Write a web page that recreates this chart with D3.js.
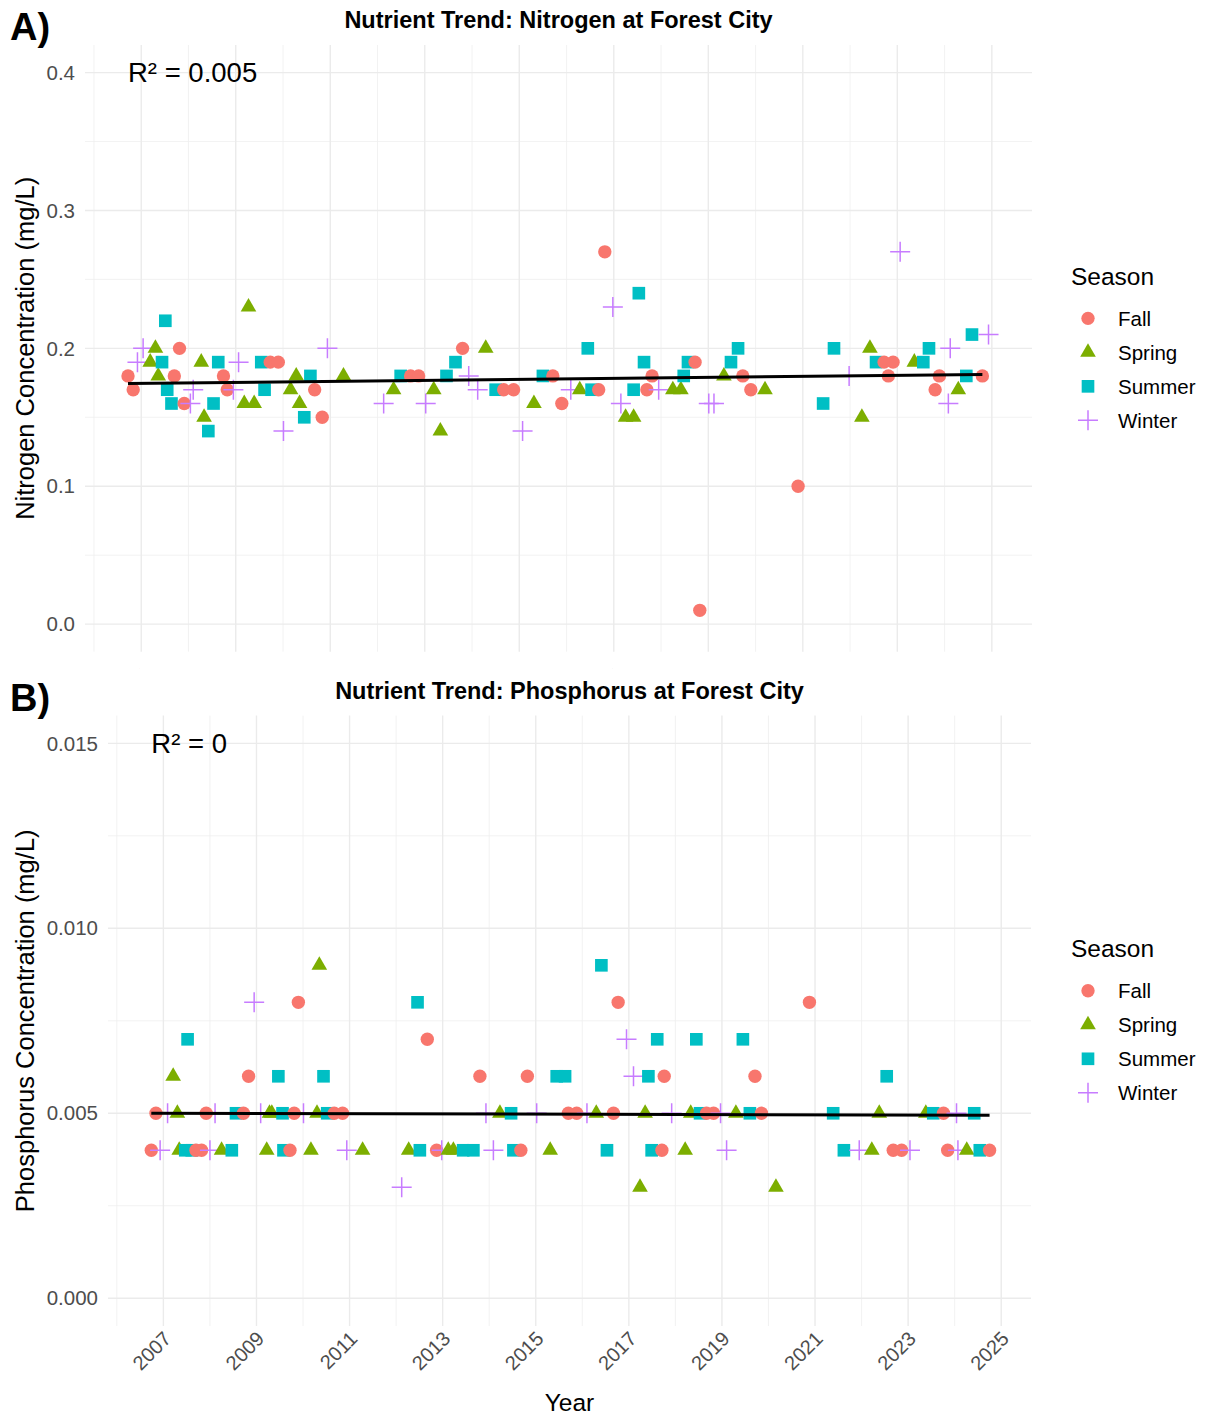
<!DOCTYPE html>
<html>
<head>
<meta charset="utf-8">
<script src="https://cdn.jsdelivr.net/npm/d3@7"></script>
<style>
  body { margin: 0; background: #fff; }
  text { font-family: "Liberation Sans", Arial, sans-serif; }
</style>
</head>
<body>
<svg id="chart"></svg>
<script>
var width = 1214;
var height = 1418;

var seasons = ['Fall', 'Spring', 'Summer', 'Winter'];
var seasonColors = ['#F8766D', '#7CAE00', '#00BFC4', '#C77CFF'];

// Nitrogen (mg/L): [year, value]
var nitrogenFall = [[2006.72, 0.18], [2006.83, 0.17], [2007.70, 0.18], [2007.81, 0.20], [2007.91, 0.16],
  [2008.74, 0.18], [2008.82, 0.17], [2009.73, 0.19], [2009.90, 0.19], [2010.67, 0.17], [2010.83, 0.15],
  [2012.70, 0.18], [2012.87, 0.18], [2013.80, 0.20], [2014.67, 0.17], [2014.88, 0.17], [2015.71, 0.18],
  [2015.90, 0.16], [2016.68, 0.17], [2016.81, 0.27], [2017.70, 0.17], [2017.81, 0.18], [2018.72, 0.19],
  [2018.82, 0.01], [2019.73, 0.18], [2019.90, 0.17], [2020.90, 0.10], [2022.72, 0.19], [2022.81, 0.18],
  [2022.91, 0.19], [2023.80, 0.17], [2023.89, 0.18], [2024.80, 0.18]];
var nitrogenSpring = [[2007.19, 0.19], [2007.30, 0.20], [2007.36, 0.18], [2008.27, 0.19], [2008.33, 0.15],
  [2009.18, 0.16], [2009.27, 0.23], [2009.39, 0.16], [2010.16, 0.17], [2010.28, 0.18], [2010.35, 0.16],
  [2011.28, 0.18], [2012.34, 0.17], [2013.19, 0.17], [2013.33, 0.14], [2014.29, 0.20], [2015.31, 0.16],
  [2016.28, 0.17], [2017.25, 0.15], [2017.42, 0.15], [2018.25, 0.17], [2018.42, 0.17], [2019.33, 0.18],
  [2020.20, 0.17], [2022.25, 0.15], [2022.42, 0.20], [2023.36, 0.19], [2024.29, 0.17]];
var nitrogenSummer = [[2007.44, 0.19], [2007.51, 0.22], [2007.55, 0.17], [2007.64, 0.16], [2008.42, 0.14],
  [2008.53, 0.16], [2008.63, 0.19], [2009.54, 0.19], [2009.61, 0.17], [2010.45, 0.15], [2010.58, 0.18],
  [2012.49, 0.18], [2013.46, 0.18], [2013.65, 0.19], [2014.50, 0.17], [2015.50, 0.18], [2016.45, 0.20],
  [2016.53, 0.17], [2017.42, 0.17], [2017.53, 0.24], [2017.64, 0.19], [2018.48, 0.18], [2018.57, 0.19],
  [2019.48, 0.19], [2019.63, 0.20], [2021.43, 0.16], [2021.66, 0.20], [2022.55, 0.19], [2023.55, 0.19],
  [2023.67, 0.20], [2024.46, 0.18], [2024.58, 0.21]];
var nitrogenWinter = [[2006.92, 0.19], [2007.04, 0.20], [2008.04, 0.16], [2008.10, 0.17], [2008.95, 0.17],
  [2009.06, 0.19], [2010.01, 0.14], [2010.94, 0.20], [2012.13, 0.16], [2013.02, 0.16], [2013.93, 0.18],
  [2014.12, 0.17], [2015.07, 0.14], [2016.09, 0.17], [2016.98, 0.23], [2017.15, 0.16], [2017.95, 0.17],
  [2019.01, 0.16], [2019.12, 0.16], [2021.98, 0.18], [2023.06, 0.27], [2024.08, 0.16], [2024.12, 0.20],
  [2024.93, 0.21]];
var nitrogenTrend = [[2006.72, 0.1745], [2024.80, 0.181]];

// Phosphorus (mg/L): [year, value]
var phosphorusFall = [[2006.74, 0.004], [2006.84, 0.005], [2007.70, 0.004], [2007.82, 0.004], [2007.92, 0.005],
  [2008.72, 0.005], [2008.83, 0.006], [2009.72, 0.004], [2009.81, 0.005], [2009.90, 0.008], [2010.67, 0.005],
  [2010.85, 0.005], [2012.67, 0.007], [2012.87, 0.004], [2013.80, 0.006], [2014.68, 0.004], [2014.82, 0.006],
  [2015.70, 0.005], [2015.88, 0.005], [2016.67, 0.005], [2016.77, 0.008], [2017.71, 0.004], [2017.76, 0.006],
  [2018.67, 0.005], [2018.82, 0.005], [2019.71, 0.006], [2019.85, 0.005], [2020.88, 0.008], [2022.68, 0.004],
  [2022.86, 0.004], [2023.76, 0.005], [2023.85, 0.004], [2024.75, 0.004]];
var phosphorusSpring = [[2007.21, 0.006], [2007.30, 0.005], [2007.34, 0.004], [2008.25, 0.004], [2009.22, 0.004],
  [2009.28, 0.005], [2009.33, 0.005], [2010.17, 0.004], [2010.30, 0.005], [2010.35, 0.009], [2011.28, 0.004],
  [2012.27, 0.004], [2013.12, 0.004], [2013.23, 0.004], [2014.23, 0.005], [2015.31, 0.004], [2016.30, 0.005],
  [2017.24, 0.003], [2017.35, 0.005], [2018.21, 0.004], [2018.33, 0.005], [2019.30, 0.005], [2020.16, 0.003],
  [2022.22, 0.004], [2022.38, 0.005], [2023.38, 0.005], [2024.26, 0.004]];
var phosphorusSummer = [[2007.47, 0.004], [2007.52, 0.007], [2007.61, 0.004], [2008.47, 0.004], [2008.56, 0.005],
  [2009.47, 0.006], [2009.56, 0.005], [2009.58, 0.004], [2010.44, 0.006], [2010.52, 0.005], [2012.46, 0.008],
  [2012.51, 0.004], [2013.44, 0.004], [2013.66, 0.004], [2014.47, 0.005], [2014.52, 0.004], [2015.45, 0.006],
  [2015.63, 0.006], [2016.41, 0.009], [2016.53, 0.004], [2017.42, 0.006], [2017.49, 0.004], [2017.61, 0.007],
  [2018.45, 0.007], [2018.53, 0.005], [2019.45, 0.007], [2019.60, 0.005], [2021.39, 0.005], [2021.62, 0.004],
  [2022.54, 0.006], [2023.54, 0.005], [2024.42, 0.005], [2024.54, 0.004]];
var phosphorusWinter = [[2006.93, 0.004], [2007.09, 0.005], [2008.00, 0.004], [2008.11, 0.005], [2008.95, 0.008],
  [2009.09, 0.005], [2010.01, 0.005], [2010.94, 0.004], [2012.12, 0.003], [2012.98, 0.004], [2013.93, 0.005],
  [2014.09, 0.004], [2015.02, 0.005], [2016.10, 0.005], [2016.95, 0.007], [2017.10, 0.006], [2017.92, 0.005],
  [2018.97, 0.005], [2019.10, 0.004], [2021.95, 0.004], [2023.04, 0.004], [2024.04, 0.005], [2024.07, 0.004]];
var phosphorusTrend = [[2006.74, 0.0050], [2024.75, 0.00495]];

var yearTicks = [2007, 2009, 2011, 2013, 2015, 2017, 2019, 2021, 2023, 2025];
var yearMinor = [2006, 2008, 2010, 2012, 2014, 2016, 2018, 2020, 2022, 2024];
var nitrogenTicks = [0.0, 0.1, 0.2, 0.3, 0.4];
var nitrogenMinor = [0.05, 0.15, 0.25, 0.35];
var phosphorusTicks = [0.000, 0.005, 0.010, 0.015];
var phosphorusMinor = [0.0025, 0.0075, 0.0125];

var panels = [
  {
    tag: 'A)', title: 'Nutrient Trend: Nitrogen at Forest City', yTitle: 'Nitrogen Concentration (mg/L)',
    series: [nitrogenFall, nitrogenSpring, nitrogenSummer, nitrogenWinter], trend: nitrogenTrend,
    r2: 'R\u00b2 = 0.005', r2y: 0.4, ticks: nitrogenTicks, minor: nitrogenMinor, fmt: '.1f',
    left: 85, right: 1032, top: 45, bottom: 651.7, xDomain: [2005.81, 2025.85], yDomain: [-0.02, 0.42], xLabels: false
  },
  {
    tag: 'B)', title: 'Nutrient Trend: Phosphorus at Forest City', yTitle: 'Phosphorus Concentration (mg/L)',
    series: [phosphorusFall, phosphorusSpring, phosphorusSummer, phosphorusWinter], trend: phosphorusTrend,
    r2: 'R\u00b2 = 0', r2y: 0.015, ticks: phosphorusTicks, minor: phosphorusMinor, fmt: '.3f',
    left: 108, right: 1031, top: 715.6, bottom: 1326, xDomain: [2005.81, 2025.64], yDomain: [-0.00075, 0.01575], xLabels: true
  }
];

var color = d3.scaleOrdinal().domain(seasons).range(seasonColors);

function symbolPath(season) {
  if (season === 'Fall') return d3.symbol(d3.symbolCircle, 140)();
  if (season === 'Spring') return d3.symbol(d3.symbolTriangle, 106)();
  if (season === 'Summer') return d3.symbol(d3.symbolSquare, 160)();
  return 'M-10,0H10M0,-10V10';
}

function drawSymbol(sel, season) {
  sel.attr('d', symbolPath(season));
  if (season === 'Winter') {
    sel.attr('fill', 'none').attr('stroke', color(season)).attr('stroke-width', 1.5);
  } else {
    sel.attr('fill', color(season));
  }
}

var svg = d3.select('#chart')
  .attr('width', width)
  .attr('height', height);

svg.append('rect').attr('width', width).attr('height', height).attr('fill', '#fff');

panels.forEach(function(p, i) {
  var g = svg.append('g');
  var x = d3.scaleLinear().domain(p.xDomain).range([p.left, p.right]);
  var y = d3.scaleLinear().domain(p.yDomain).range([p.bottom, p.top]);
  var mid = (p.top + p.bottom) / 2;

  // grid
  g.selectAll('.hminor').data(p.minor).enter().append('line')
    .attr('x1', p.left).attr('x2', p.right).attr('y1', d => y(d)).attr('y2', d => y(d))
    .attr('stroke', '#EFEFEF').attr('stroke-width', 0.8);
  g.selectAll('.vminor').data(yearMinor).enter().append('line')
    .attr('x1', d => x(d)).attr('x2', d => x(d)).attr('y1', p.top).attr('y2', p.bottom)
    .attr('stroke', '#EFEFEF').attr('stroke-width', 0.8);
  g.selectAll('.hmajor').data(p.ticks).enter().append('line')
    .attr('x1', p.left).attr('x2', p.right).attr('y1', d => y(d)).attr('y2', d => y(d))
    .attr('stroke', '#EBEBEB').attr('stroke-width', 1.4);
  g.selectAll('.vmajor').data(yearTicks).enter().append('line')
    .attr('x1', d => x(d)).attr('x2', d => x(d)).attr('y1', p.top).attr('y2', p.bottom)
    .attr('stroke', '#EBEBEB').attr('stroke-width', 1.4);

  // y tick labels
  g.selectAll('.ytick').data(p.ticks).enter().append('text')
    .attr('x', p.left - 10).attr('y', d => y(d)).attr('dy', '0.35em')
    .attr('text-anchor', 'end').attr('font-size', 20.5).attr('fill', '#4D4D4D')
    .text(d => d3.format(p.fmt)(d));

  // x tick labels (panel A ones are cut off by panel B in the figure)
  var clipId = 'clip' + i;
  svg.append('clipPath').attr('id', clipId).append('rect')
    .attr('x', 0).attr('y', 0).attr('width', width).attr('height', p.xLabels ? height : p.bottom + 17);
  g.append('g').attr('clip-path', 'url(#' + clipId + ')')
    .selectAll('text').data(yearTicks).enter().append('text')
    .attr('transform', d => `translate(${x(d) + 9}, ${p.bottom + (p.xLabels ? 14 : 26)}) rotate(-45)`)
    .attr('text-anchor', 'end').attr('font-size', 20).attr('fill', '#4D4D4D')
    .text(d => d);

  // points, drawn in time order like the source data
  var pts = [];
  p.series.forEach(function(s, k) {
    s.forEach(function(d) { pts.push({year: d[0], value: d[1], season: seasons[k]}); });
  });
  pts.sort((a, b) => a.year - b.year);
  g.selectAll('.pt').data(pts).enter().append('path')
    .attr('transform', d => `translate(${x(d.year)}, ${y(d.value)})`)
    .each(function(d) { drawSymbol(d3.select(this), d.season); });

  // trend line
  g.append('path')
    .attr('d', d3.line().x(d => x(d[0])).y(d => y(d[1]))(p.trend))
    .attr('fill', 'none').attr('stroke', '#000').attr('stroke-width', 3);

  // R² annotation
  var minYear = d3.min(pts, d => d.year);
  g.append('text')
    .attr('x', x(minYear)).attr('y', y(p.r2y)).attr('dy', '0.35em')
    .attr('font-size', 27.5).attr('fill', '#000')
    .text(p.r2);

  // titles
  g.append('text')
    .attr('x', (p.left + p.right) / 2).attr('y', p.top - 17)
    .attr('text-anchor', 'middle').attr('font-size', 23.5).attr('font-weight', 'bold')
    .text(p.title);
  g.append('text')
    .attr('x', 10).attr('y', p.top - 5)
    .attr('font-size', 38).attr('font-weight', 'bold')
    .text(p.tag);
  g.append('text')
    .attr('transform', `translate(25, ${mid}) rotate(-90)`).attr('dy', '0.35em')
    .attr('text-anchor', 'middle').attr('font-size', 25.5).attr('fill', '#000')
    .text(p.yTitle);

  // legend
  var lg = g.append('g').attr('transform', `translate(1071, ${mid - 72})`);
  lg.append('text').attr('x', 0).attr('y', 0).attr('dy', '0.35em')
    .attr('font-size', 24.5).text('Season');
  seasons.forEach(function(s, k) {
    var row = lg.append('g').attr('transform', `translate(0, ${42 + k * 34})`);
    row.append('path').attr('transform', 'translate(17, 0)')
      .call(drawSymbol, s);
    row.append('text').attr('x', 47).attr('dy', '0.35em')
      .attr('font-size', 20.5).text(s);
  });

  if (p.xLabels) {
    g.append('text')
      .attr('x', (p.left + p.right) / 2).attr('y', 1411)
      .attr('text-anchor', 'middle').attr('font-size', 24.5)
      .text('Year');
  }
});
</script>
</body>
</html>
